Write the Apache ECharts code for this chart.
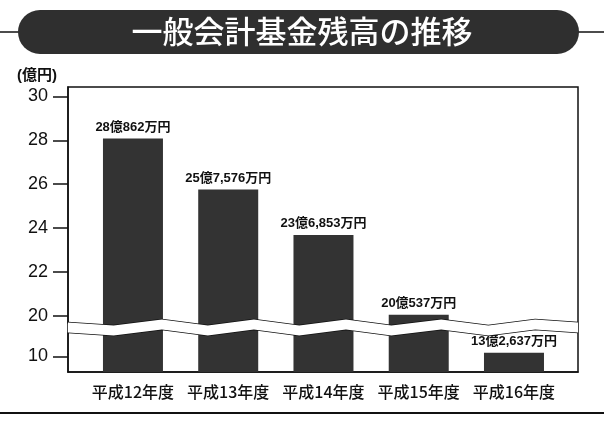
<!DOCTYPE html>
<html><head><meta charset="utf-8">
<script src="https://cdn.jsdelivr.net/npm/echarts@6/dist/echarts.min.js"></script>
<style>html,body{margin:0;padding:0;background:#fff}#c{width:604px;height:439px}</style>
</head><body><div id="c"></div>
<script>
// ---- data ----
const titleText = '一般会計基金残高の推移';
const unitLabel = '(億円)';
const categories = ['平成12年度', '平成13年度', '平成14年度', '平成15年度', '平成16年度'];
const balances = [28.0862, 25.7576, 23.6853, 20.0537, 13.2637]; // 億円
const yTicks = [10, 20, 22, 24, 26, 28, 30];
const catPositions = [1, 2, 3, 4, 5];

function fmtYen(v) {
  const oku = Math.floor(v + 1e-9);
  const man = Math.round((v - oku) * 10000);
  return oku + '億' + (man > 0 ? man.toLocaleString('en-US') + '万円' : '円');
}

const chart = echarts.init(document.getElementById('c'), null, { renderer: 'canvas' });
const FONT = '"Liberation Sans", "Noto Sans CJK JP", sans-serif';
const CJK = '"Noto Sans CJK JP", sans-serif';
const yMax = 30.43;
const visibleBreak = { start: 14.2, end: 19.7, gap: 0.45 };
const hiddenBreak = { start: 10.1, end: 13.2, gap: 0 };

chart.setOption({
  animation: false,
  backgroundColor: '#fff',
  title: {
    text: titleText, left: 'center', top: 11,
    textStyle: { color: '#fff', fontSize: 31, fontWeight: 500, fontFamily: CJK }
  },
  graphic: [
    { type: 'line', z: -10, shape: { x1: 0, y1: 32, x2: 604, y2: 32 }, style: { stroke: '#111', lineWidth: 1.5 } },
    { type: 'rect', z: -5, shape: { x: 18, y: 10, width: 561, height: 44, r: 22 }, style: { fill: '#2f2f2f' } },
    { type: 'line', shape: { x1: 0, y1: 413, x2: 604, y2: 413 }, style: { stroke: '#111', lineWidth: 2 } }
  ],
  grid: { left: 68, right: 26, top: 87, bottom: 67, show: true, borderColor: '#111', borderWidth: 1.5, backgroundColor: 'transparent' },
  xAxis: {
    type: 'value', min: 0.318, max: 5.672,
    splitLine: { show: false }, axisTick: { show: false },
    axisLine: { show: true, lineStyle: { color: '#111', width: 1.5 } },
    axisLabel: {
      customValues: catPositions, margin: 12, color: '#111', fontSize: 16, fontWeight: 500,
      fontFamily: CJK,
      formatter: v => categories[Math.round(v) - 1] || ''
    }
  },
  yAxis: [{
    type: 'value', min: 9.29, max: yMax,
    name: unitLabel, nameLocation: 'end', nameGap: 4,
    nameTextStyle: { color: '#111', fontSize: 15, fontWeight: 'bold', align: 'right', padding: [0, 11, 0, 0], fontFamily: FONT },
    breaks: [visibleBreak, hiddenBreak],
    breakArea: {
      expandOnClick: false,
      itemStyle: { color: 'rgba(0,0,0,0)', borderColor: 'rgba(0,0,0,0)', borderWidth: 0, opacity: 0 }
    },
    splitLine: { show: false },
    axisLine: { show: true, lineStyle: { color: '#111', width: 1.5 } },
    axisTick: { show: true, inside: false, length: 15, customValues: yTicks, lineStyle: { color: '#111', width: 1.5 } },
    axisLabel: { customValues: yTicks, margin: 20, color: '#111', fontSize: 18, fontFamily: FONT }
  }, {
    type: 'value', position: 'right', min: 12.39, max: yMax,
    breaks: [visibleBreak],
    breakArea: {
      expandOnClick: false, zigzagAmplitude: 3, zigzagMinSpan: 45, zigzagMaxSpan: 50, zigzagZ: 100,
      itemStyle: { color: '#fff', borderColor: '#111', borderWidth: 1.5, borderType: 'solid', opacity: 1 }
    },
    splitLine: { show: false }, axisLine: { show: false }, axisTick: { show: false }, axisLabel: { show: false }
  }],
  series: [{
    type: 'bar', yAxisIndex: 0, barWidth: 60,
    data: balances.map((v, i) => [catPositions[i], v]),
    itemStyle: { color: '#333333' },
    label: {
      show: true, position: 'top', distance: 5, color: '#111', fontSize: 13, fontWeight: 'bold',
      fontFamily: FONT, formatter: p => fmtYen(p.value[1])
    }
  }]
});
</script></body></html>
